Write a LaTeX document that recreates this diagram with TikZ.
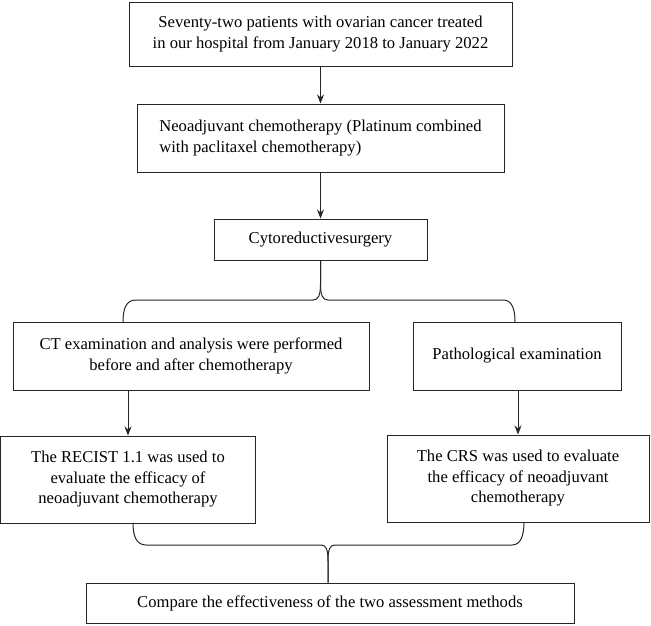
\documentclass[tikz,border=0pt]{standalone}
\usepackage{fontspec}
\setmainfont{Liberation Serif}
\usetikzlibrary{arrows.meta}
\begin{document}
\begin{tikzpicture}[x=1pt,y=-1pt,
  box/.style={draw=black!85,line width=1pt,inner sep=0pt,font=\fontsize{16.6}{20.5}\selectfont},
  arr/.style={draw=black!85,line width=1pt,-{Stealth[length=9pt,width=7pt]}},
  brace/.style={draw=black!85,line width=1pt}]
\useasboundingbox (0,0) rectangle (651,625);
\node[box,minimum width=383pt,minimum height=64pt,align=center] (b1) at (320.5,34)
  {Seventy-two patients with ovarian cancer treated\\in our hospital from January 2018 to January 2022};
\node[box,minimum width=367pt,minimum height=68pt,align=left] (b2) at (320.5,138)
  {Neoadjuvant chemotherapy (Platinum combined\\with paclitaxel chemotherapy)};
\node[box,minimum width=213pt,minimum height=41pt] (b3) at (320.5,239.5) {Cytoreductivesurgery};
\node[box,minimum width=356pt,minimum height=68pt,align=center] (ct) at (191,356)
  {CT examination and analysis were performed\\before and after chemotherapy};
\node[box,minimum width=208pt,minimum height=68pt] (pa) at (517,356) {Pathological examination};
\node[box,minimum width=255pt,minimum height=87pt,align=center] (re) at (128,479.5)
  {The RECIST 1.1 was used to\\evaluate the efficacy of\\neoadjuvant chemotherapy};
\node[box,minimum width=262pt,minimum height=87pt,align=center] (crs) at (518,478.5)
  {The CRS was used to evaluate\\the efficacy of neoadjuvant\\chemotherapy};
\node[box,minimum width=488pt,minimum height=40pt] (cmp) at (330,603)
  {Compare the effectiveness of the two assessment methods};
\draw[arr] (b1.south) -- (b2.north);
\draw[arr] (b2.south) -- (b3.north);
\draw[arr] (ct.south -| re.north) -- (re.north);
\draw[arr] (pa.south -| crs.north) -- (crs.north);
% top brace
\coordinate (tl) at (123,322);
\coordinate (tr) at (515,322);
\draw[brace] (tl) .. controls (123,307) and (127,300) .. (136,300) -- (313,300)
  .. controls (318,300) and (320.5,296) .. (320.5,284) -- (b3.south);
\draw[brace] (b3.south) -- (320.5,284) .. controls (320.5,296) and (323,300) .. (328,300)
  -- (503,300) .. controls (511,300) and (515,307) .. (tr);
% bottom brace
\coordinate (bl) at (133,523);
\coordinate (br) at (524,522);
\draw[brace] (bl) .. controls (133,537) and (137,545) .. (146,545) -- (321,545)
  .. controls (326,545) and (328,549) .. (328,561) -- (cmp.north -| 328,0);
\draw[brace] (cmp.north -| 328,0) -- (328,561) .. controls (328,549) and (330,545) .. (335,545)
  -- (512,545) .. controls (520,545) and (524,537) .. (br);
\end{tikzpicture}
\end{document}
